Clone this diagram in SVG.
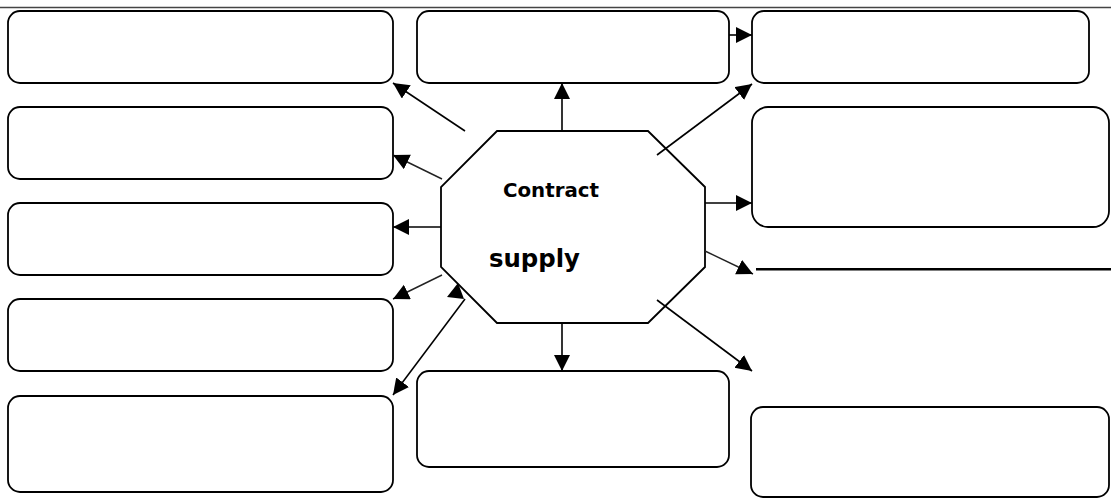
<svg xmlns="http://www.w3.org/2000/svg" width="1111" height="500" viewBox="0 0 1111 500">
<defs>
<style>
.box{fill:#fff;stroke:#000;stroke-width:1.8}
.oct{fill:#fff;stroke:#000;stroke-width:1.8}
.c{stroke:#000;stroke-width:1.6;fill:none}
.cl{stroke:#222;stroke-width:1.4;fill:none}
.t{font-family:"DejaVu Sans","Verdana",sans-serif;font-weight:bold;fill:#000}
</style>
<marker id="ah" markerUnits="userSpaceOnUse" markerWidth="18" markerHeight="18" refX="16" refY="8" orient="auto">
<path d="M0,0 L16,8 L0,16 Z" fill="#000"/>
</marker>
</defs>
<rect width="1111" height="500" fill="#fff"/>
<line x1="0" y1="7.5" x2="1111" y2="7.5" stroke="#444" stroke-width="1.3"/>
<g id="box-l1"><rect class="box" x="8" y="11" width="385" height="72" rx="12"/></g>
<g id="box-l2"><rect class="box" x="8" y="107" width="385" height="72" rx="12"/></g>
<g id="box-l3"><rect class="box" x="8" y="203" width="385" height="72" rx="12"/></g>
<g id="box-l4"><rect class="box" x="8" y="299" width="385" height="72" rx="12"/></g>
<g id="box-l5"><rect class="box" x="8" y="396" width="385" height="96" rx="12"/></g>
<g id="box-top"><rect class="box" x="417" y="11" width="312" height="72" rx="12"/></g>
<g id="box-bottom"><rect class="box" x="417" y="371" width="312" height="96" rx="12"/></g>
<g id="box-r1"><rect class="box" x="752" y="11" width="337" height="72" rx="12"/></g>
<g id="box-r2"><rect class="box" x="752" y="107" width="357" height="120" rx="16"/></g>
<g id="box-r3"><rect class="box" x="751" y="407" width="358" height="90" rx="12"/></g>
<g id="line-r"><line x1="756" y1="269.3" x2="1111" y2="269.3" stroke="#000" stroke-width="2.6"/></g>
<g id="center">
<polygon class="oct" points="497,131 648,131 705,187 705,267 648,323 497,323 441,267 441,187"/>
<text class="t" x="503" y="196.7" font-size="19.5" textLength="96" lengthAdjust="spacingAndGlyphs">Contract</text>
<text class="t" x="489" y="266.7" font-size="25.5" textLength="91" lengthAdjust="spacingAndGlyphs">supply</text>
</g>
<g id="connectors">
<line class="c" x1="562" y1="131" x2="562" y2="83" marker-end="url(#ah)"/>
<line class="c" x1="729" y1="35" x2="752" y2="35" marker-end="url(#ah)"/>
<line class="c" x1="657" y1="155" x2="752" y2="84" marker-end="url(#ah)"/>
<line class="c" x1="705" y1="203" x2="752" y2="203" marker-end="url(#ah)"/>
<line class="cl" x1="705" y1="251" x2="753" y2="274" marker-end="url(#ah)"/>
<line class="c" x1="657" y1="300" x2="752" y2="371" marker-end="url(#ah)"/>
<line class="c" x1="562" y1="323" x2="562" y2="371" marker-end="url(#ah)"/>
<line class="c" x1="465" y1="131" x2="393" y2="83" marker-end="url(#ah)"/>
<line class="cl" x1="442" y1="179" x2="393" y2="155" marker-end="url(#ah)"/>
<line class="c" x1="441" y1="227" x2="393" y2="227" marker-end="url(#ah)"/>
<line class="cl" x1="442" y1="275" x2="393" y2="299" marker-end="url(#ah)"/>
<line class="c" x1="465" y1="299" x2="393" y2="395" marker-end="url(#ah)"/>
<polygon points="458,283 447,297 464,299" fill="#000"/>
</g>
</svg>
